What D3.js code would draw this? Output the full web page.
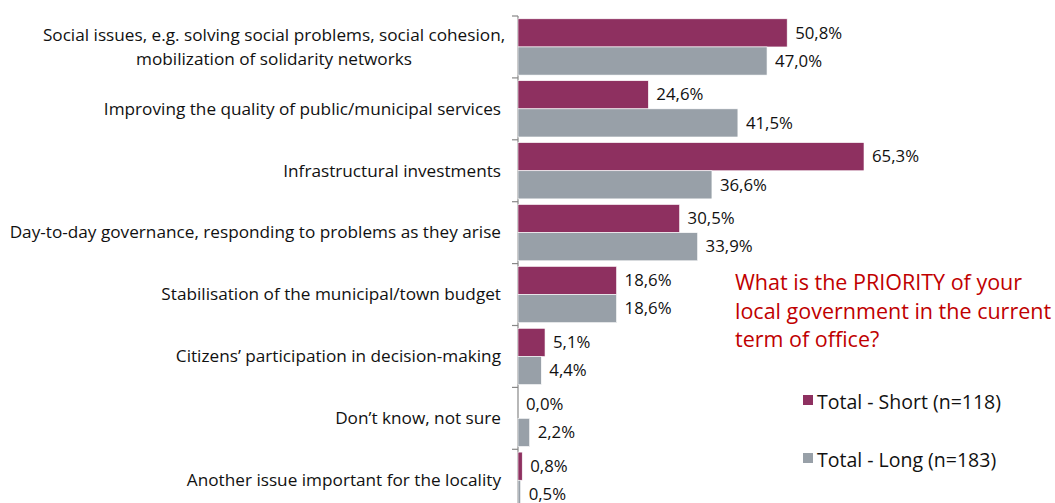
<!DOCTYPE html>
<html>
<head>
<meta charset="utf-8">
<script src="https://cdn.jsdelivr.net/npm/d3@7"></script>
<style>
  body { margin: 0; background: #fff; }
  svg text { font-family: "Open Sans", "Noto Sans", sans-serif; }
</style>
</head>
<body>
<svg id="chart" width="1055" height="503"></svg>
<script>
const categories = [
  ["Social issues, e.g. solving social problems, social cohesion,", "mobilization of solidarity networks"],
  ["Improving the quality of public/municipal services"],
  ["Infrastructural investments"],
  ["Day-to-day governance, responding to problems as they arise"],
  ["Stabilisation of the municipal/town budget"],
  ["Citizens\u2019 participation in decision-making"],
  ["Don\u2019t know, not sure"],
  ["Another issue important for the locality"]
];
const shortValues = [50.8, 24.6, 65.3, 30.5, 18.6, 5.1, 0.0, 0.8];
const longValues  = [47.0, 41.5, 36.6, 33.9, 18.6, 4.4, 2.2, 0.5];
const seriesNames = ["Total - Short (n=118)", "Total - Long (n=183)"];
const seriesColors = ["#8e3060", "#98a0a8"];
const titleLines = ["What is the PRIORITY of your", "local government in the current", "term of office?"];

const svg = d3.select("#chart");
const x0 = 518;
const plotTop = 16, band = 61.9;

const y = d3.scaleBand()
  .domain(d3.range(categories.length))
  .range([plotTop, plotTop + band * categories.length])
  .paddingInner(0).paddingOuter(0);
const inner = d3.scaleBand().domain([0, 1]).range([0, y.bandwidth()]).paddingInner(0).paddingOuter(0.1);
const x = d3.scaleLinear().domain([0, 65.3]).range([x0, 864]);

// axis line with ticks at category boundaries
const axisG = svg.append("g");
axisG.append("line")
  .attr("x1", x0).attr("x2", x0)
  .attr("y1", plotTop).attr("y2", 503)
  .attr("stroke", "#888").attr("stroke-width", 1.2);
d3.range(categories.length + 1).forEach(i => {
  const yy = plotTop + band * i;
  axisG.append("line")
    .attr("x1", x0 - 6).attr("x2", x0)
    .attr("y1", yy).attr("y2", yy)
    .attr("stroke", "#888").attr("stroke-width", 1.2);
});

const fmt = v => v.toFixed(1).replace(".", ",") + "%";
const series = [shortValues, longValues];

series.forEach((vals, s) => {
  const g = svg.append("g");
  vals.forEach((v, i) => {
    const by = y(i) + inner(s);
    if (v > 0) {
      g.append("rect")
        .attr("x", x(0)).attr("y", by)
        .attr("width", x(v) - x(0)).attr("height", inner.bandwidth())
        .attr("fill", seriesColors[s])
        .attr("stroke", "#fff").attr("stroke-width", 0.6);
    }
    g.append("text")
      .attr("x", x(v) + 8).attr("y", by + inner.bandwidth() / 2)
      .attr("dy", "0.34em")
      .attr("font-size", 16.8).attr("fill", "#111")
      .text(fmt(v));
  });
});

// category labels
categories.forEach((lines, i) => {
  const cy = y(i) + y.bandwidth() / 2;
  const t = svg.append("text")
    .attr("text-anchor", lines.length > 1 ? "middle" : "end")
    .attr("font-size", 17.2).attr("fill", "#111");
  const lh = 24;
  lines.forEach((ln, j) => {
    t.append("tspan")
      .attr("x", lines.length > 1 ? 274 : 501)
      .attr("y", cy + (j - (lines.length - 1) / 2) * lh)
      .attr("dy", "0.34em")
      .text(ln);
  });
});

// title
const title = svg.append("text")
  .attr("font-size", 21.5).attr("fill", "#c00000");
titleLines.forEach((ln, j) => {
  title.append("tspan").attr("x", 735).attr("y", 290 + j * 28.5).text(ln);
});

// legend
seriesNames.forEach((name, s) => {
  const ly = 402 + s * 58;
  svg.append("rect")
    .attr("x", 803).attr("y", ly - 7).attr("width", 10).attr("height", 10)
    .attr("fill", seriesColors[s]);
  svg.append("text")
    .attr("x", 817).attr("y", ly).attr("dy", "0.34em")
    .attr("font-size", 19.5).attr("fill", "#111")
    .text(name);
});
</script>
</body>
</html>
